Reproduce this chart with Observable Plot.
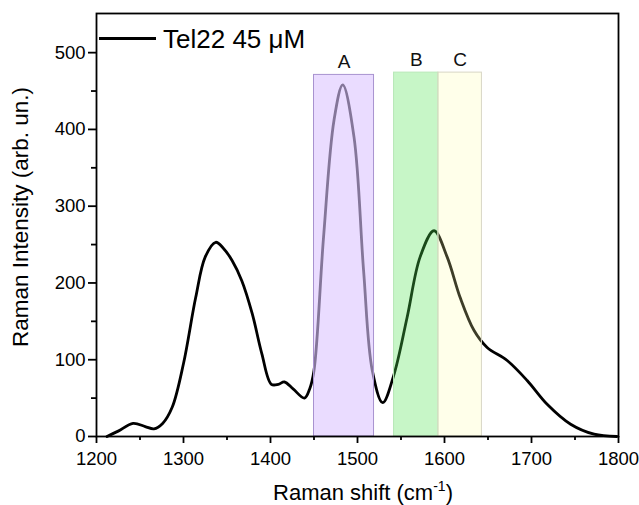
<!DOCTYPE html>
<html>
<head>
<meta charset="utf-8">
<script src="https://cdn.jsdelivr.net/npm/d3@7"></script>
<script src="https://cdn.jsdelivr.net/npm/@observablehq/plot@0.6"></script>
<style>
  html, body { margin: 0; padding: 0; background: #fff; }
  #wrap { position: relative; width: 639px; height: 505px; font-family: "Liberation Sans", Arial, sans-serif; }
  #overlay { position: absolute; left: 0; top: 0; pointer-events: none; }
</style>
</head>
<body>
<div id="wrap">
  <div id="chart"></div>
  <svg id="overlay" width="639" height="505" font-family="Liberation Sans, Arial, sans-serif">
    <line x1="99" x2="156" y1="38.5" y2="38.5" stroke="#000" stroke-width="2.8"></line>
    <text id="legendText" x="163" y="47.5" font-size="26" fill="#000"></text>
    <text id="xTitle" x="363" y="500" font-size="22" text-anchor="middle" fill="#000"></text>
    <text id="yTitle" transform="translate(28,217) rotate(-90)" font-size="22.5" text-anchor="middle" fill="#000"></text>
  </svg>
</div>
<script>
// Spectrum (Raman shift in cm-1, intensity in arb. un.)
const ramanShift = [1212, 1225, 1242, 1256, 1266, 1276, 1287, 1300, 1314, 1325, 1337, 1346, 1356, 1367, 1379, 1390, 1401, 1409, 1416, 1426, 1439, 1445, 1450, 1461, 1473, 1483, 1496, 1507, 1517, 1529, 1542, 1557, 1572, 1588, 1603, 1618, 1634, 1649, 1672, 1695, 1718, 1745, 1772, 1798];
const intensity  = [0, 7, 17, 13, 10, 17, 38, 95, 181, 234, 253, 245, 229, 203, 160, 108, 68, 68, 71, 62, 50, 62, 86, 260, 412, 458, 390, 216, 86, 44, 81, 155, 234, 268, 234, 181, 138, 116, 99, 73, 42, 16, 3, 0];

// Highlighted regions
const bandLabels = ["A", "B", "C"];
const bandStart  = [1450, 1542, 1593];
const bandEnd    = [1519, 1593, 1643];
const bandTop    = [471, 474, 474];
const bandFill   = ["#dcc4ff", "#50e450", "#ffffa6"];
const bandStroke = ["#a892d0", "#b8e8b8", "#d8d6c4"];
const bandOpacity = [0.6, 0.32, 0.24];

// Axis ticks
const xTicks = [1200, 1300, 1400, 1500, 1600, 1700, 1800];
const xMinor = [1250, 1350, 1450, 1550, 1650, 1750];
const yTicks = [0, 100, 200, 300, 400, 500];
const yMinor = [50, 150, 250, 350, 450];

// Texts
const legendLabel = "Tel22 45 μM";
const xTitle = "Raman shift (cm";
const xTitleSup = "-1";
const yTitle = "Raman Intensity (arb. un.)";

const spectrum = ramanShift.map((x, i) => ({x, y: intensity[i]}));
const bands = bandLabels.map((label, i) => ({
  label, x1: bandStart[i], x2: bandEnd[i], top: bandTop[i],
  fill: bandFill[i], stroke: bandStroke[i], op: bandOpacity[i]
}));

const chart = Plot.plot({
  width: 639,
  height: 505,
  marginLeft: 96,
  marginRight: 21,
  marginTop: 13,
  marginBottom: 69,
  style: {fontFamily: '"Liberation Sans", Arial, sans-serif', fontSize: "18px", color: "#000", background: "#fff"},
  x: {domain: [1200, 1800]},
  y: {domain: [0, 551]},
  marks: [
    Plot.line(spectrum, {x: "x", y: "y", curve: "catmull-rom", stroke: "#000", strokeWidth: 2.8}),
    Plot.rectY(bands, {x1: "x1", x2: "x2", y1: 0, y2: "top", fill: d => d.fill, fillOpacity: d => d.op, stroke: d => d.stroke, strokeWidth: 1}),
    Plot.text(bands, {x: d => (d.x1 + d.x2) / 2, y: "top", text: "label", dy: -13, fontSize: 19, fill: "#111"}),
    Plot.axisX(xMinor, {tickSize: 4, tickFormat: () => "", strokeWidth: 1.8, label: null}),
    Plot.axisX(xTicks, {tickSize: 7, tickPadding: 8, strokeWidth: 1.8, tickFormat: d => String(d), label: null, fontSize: 18.5}),
    Plot.axisY(yMinor, {tickSize: 5, tickFormat: () => "", strokeWidth: 1.8, label: null}),
    Plot.axisY(yTicks, {tickSize: 8, tickPadding: 3, strokeWidth: 1.8, tickFormat: d => String(d), label: null, fontSize: 18.5}),
    Plot.frame({stroke: "#000", strokeWidth: 1.8})
  ]
});
document.getElementById("chart").appendChild(chart);

document.getElementById("legendText").textContent = legendLabel;
const xt = d3.select("#xTitle");
xt.append("tspan").text(xTitle);
xt.append("tspan").attr("font-size", 14).attr("dy", -9).text(xTitleSup);
xt.append("tspan").attr("dy", 9).text(")");
document.getElementById("yTitle").textContent = yTitle;
</script>
</body>
</html>
